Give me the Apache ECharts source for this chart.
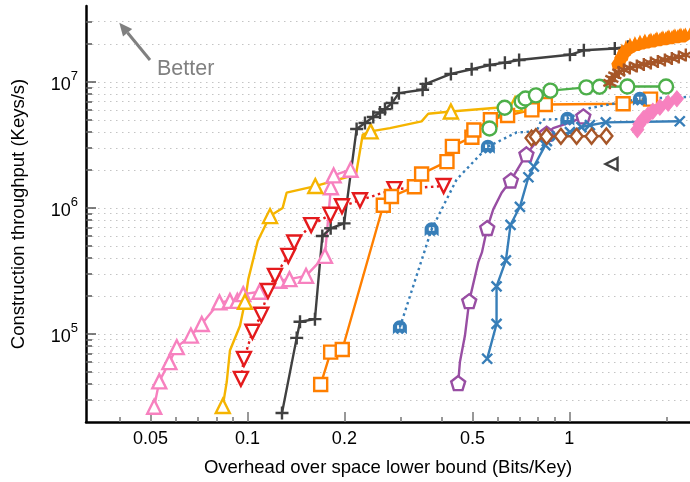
<!DOCTYPE html>
<html>
<head>
<meta charset="utf-8">
<title>Construction throughput</title>
<script src="https://cdn.jsdelivr.net/npm/echarts@6/dist/echarts.min.js"></script>
<style>
  html, body { margin: 0; padding: 0; background: #fff; }
  #main { width: 690px; height: 482px; }
</style>
</head>
<body>
<div id="main"></div>
<script>
// axis ranges / ticks
const xMin = 0.0315, xMax = 2.37;
const yMin = 2e4, yMax = 4e7;
const xMajor = [0.05, 0.1, 0.2, 0.5, 1];
const xMinor = [0.04, 0.06, 0.07, 0.08, 0.09, 0.3, 0.4, 0.6, 0.7, 0.8, 0.9, 2];
const yMajor = [1e5, 1e6, 1e7];
const yMinor = [3e4, 4e4, 5e4, 6e4, 7e4, 8e4, 9e4,
  2e5, 3e5, 4e5, 5e5, 6e5, 7e5, 8e5, 9e5,
  2e6, 3e6, 4e6, 5e6, 6e6, 7e6, 8e6, 9e6,
  2e7, 3e7];

// [overhead, throughput, 0 = vertex without marker]
const pinkTri = [[0.0513,2.64e4],[0.0532,4.2e4],[0.0572,5.97e4],[0.0603,7.85e4],[0.0667,9.7e4],[0.0721,1.2e5],[0.0818,1.78e5],[0.0882,1.83e5],[0.093,1.83e5],[0.097,2.07e5],[0.109,2.16e5],[0.1256,2.64e5],[0.135,2.72e5],[0.152,2.89e5],[0.174,4.16e5],[0.1816,1.46e6],[0.1852,1.81e6],[0.209,2.01e6]];
const goldTri = [[0.0838,2.68e4],[0.0862,4.15e4,0],[0.0882,7.38e4,0],[0.0948,1.16e5,0],[0.0982,1.8e5],[0.1006,2.72e5,0],[0.1076,5.47e5,0],[0.1175,8.61e5],[0.1286,1.0e6,0],[0.1323,1.32e6,0],[0.1624,1.49e6],[0.2173,1.84e6,0],[0.228,3.81e6,0],[0.2413,4.05e6],[0.277,4.3e6,0],[0.3475,4.86e6,0],[0.3643,5.58e6,0],[0.4285,5.82e6],[0.608,6.26e6,0],[0.678,6.66e6]];
const grayPlus = [[0.128,2.36e4],[0.1422,9.3e4],[0.1456,1.25e5],[0.162,1.31e5],[0.1708,5.98e5],[0.1813,6.89e5],[0.1996,7.54e5],[0.2183,4.23e6],[0.2317,4.72e6],[0.2459,5.26e6],[0.258,5.71e6],[0.2673,6.08e6],[0.2811,6.79e6],[0.2954,8.14e6],[0.35,8.65e6],[0.3584,9.64e6],[0.4285,1.157e7],[0.4971,1.26e7],[0.5663,1.36e7],[0.6305,1.42e7],[0.698,1.49e7],[1.004,1.64e7],[1.109,1.78e7],[1.384,1.84e7],[1.52,1.9e7]];
const redTri = [[0.0954,4.4e4],[0.0975,6.34e4],[0.1036,1.04e5],[0.1104,1.42e5],[0.1158,2.19e5],[0.1217,2.89e5],[0.1339,4.16e5],[0.1397,5.31e5],[0.1577,7.3e5],[0.1811,8.83e5],[0.1966,1.03e6],[0.2236,1.15e6],[0.2861,1.41e6],[0.4067,1.49e6]];
const orangeSq = [[0.1688,3.97e4],[0.1813,7.17e4],[0.197,7.52e4],[0.2642,1.05e6],[0.2801,1.23e6],[0.3301,1.47e6],[0.3475,1.86e6],[0.4166,2.33e6],[0.4331,3.08e6],[0.4979,3.64e6],[0.505,4.15e6],[0.5684,5.01e6],[0.6428,5.41e6],[0.7645,6.0e6],[0.842,6.62e6],[1.469,6.71e6],[1.787,7.3e6]];
const blueGhost = [[0.2975,1.13e5],[0.3733,6.76e5],[0.4463,1.68e6,0],[0.5582,3.06e6],[0.6855,3.97e6,0],[0.7907,4.05e6,0],[0.8199,5.01e6,0],[0.9858,5.1e6],[1.158,6.2e6,0],[1.656,7.34e6],[2.37,7.6e6,0]];
const purplePent = [[0.4514,4.07e4],[0.457,5.98e4,0],[0.4738,9.7e4,0],[0.4885,1.82e5],[0.521,3.69e5,0],[0.535,4.43e5,0],[0.5555,6.92e5],[0.5801,9.73e5,0],[0.6159,1.32e6,0],[0.658,1.65e6],[0.7355,2.66e6],[0.791,3.37e6,0],[0.8498,3.88e6],[0.8908,4.3e6,0],[1.028,4.86e6,0],[1.105,5.32e6]];
const blueX = [[0.5555,6.35e4],[0.594,1.2e5],[0.594,2.38e5],[0.635,3.83e5],[0.6565,7.34e5],[0.702,1.02e6],[0.746,1.75e6],[0.7759,2.13e6],[0.842,3.15e6],[0.8511,3.39e6],[0.9146,3.71e6],[1.004,3.99e6],[1.09,4.37e6],[1.158,4.53e6],[1.298,4.77e6],[2.203,4.87e6]];
const greenCirc = [[0.5646,4.27e6],[0.6294,6.23e6],[0.7111,6.99e6],[0.7306,7.37e6],[0.7871,7.82e6],[0.873,8.52e6],[1.129,9.05e6],[1.241,9.15e6],[1.514,9.18e6],[1.997,9.18e6]];
const brownDia = [[0.7629,3.58e6],[0.787,3.67e6],[0.8498,3.69e6],[0.9411,3.7e6],[1.053,3.7e6],[1.172,3.7e6],[1.303,3.72e6]];
const grayLeft = [[1.352,2.23e6]];
const pinkDia = [[1.626,4.18e6],[1.65,4.61e6],[1.698,5.1e6],[1.753,5.44e6],[1.816,5.85e6],[1.91,6.29e6],[2.027,6.76e6],[2.158,7.34e6]];
const orangeBlob = [[1.4245,1.439e7],[1.455,1.605e7],[1.487,1.758e7],[1.53,1.874e7],[1.575,1.96e7],[1.632,2.015e7],[1.692,2.07e7],[1.753,2.11e7],[1.83,2.15e7],[1.91,2.195e7],[1.994,2.236e7],[2.081,2.277e7],[2.173,2.318e7],[2.268,2.352e7]];
const brownStar = [[1.336,9.82e6],[1.355,1.056e7],[1.384,1.126e7],[1.424,1.189e7],[1.477,1.244e7],[1.541,1.29e7],[1.62,1.338e7],[1.703,1.375e7],[1.791,1.413e7],[1.883,1.452e7],[1.98,1.493e7],[2.081,1.534e7],[2.188,1.576e7],[2.3,1.635e7]];

const SYM = {
  plus: 'path://M5,0L5,10M0,5L10,5',
  cross: 'path://M0,0L10,10M0,10L10,0',
  star: 'path://M5,0L5,10M0.67,2.5L9.33,7.5M0.67,7.5L9.33,2.5',
  pentagon: 'path://M5,0L9.76,3.45L7.94,9.05L2.06,9.05L0.24,3.45Z',
  ghost: 'path://M0,10L0,5A5,5 0 0 1 10,5L10,10L8.33,8.6L6.67,10L5,8.6L3.33,10L1.67,8.6Z M3,3.5L3,6L4.5,6L4.5,3.5Z M5.5,3.5L5.5,6L7,6L7,3.5Z',
  blob: 'path://M1,10L0,6L2,3L3,0L4.5,3L6,0L7.5,3L9,0L10,4L9,8L6,10Z'
};

function pts(arr) {
  return arr.map(p => p[2] === 0 ? { value: [p[0], p[1]], symbol: 'none' } : [p[0], p[1]]);
}

function mk(name, arr, color, symbol, size, o) {
  o = o || {};
  return {
    name: name,
    type: 'line',
    data: pts(arr),
    symbol: symbol,
    symbolSize: size,
    symbolRotate: o.rotate || 0,
    showAllSymbol: true,
    lineStyle: { color: color, width: o.lineWidth == null ? 2.4 : o.lineWidth, type: o.dotted ? [2.5, 3.5] : 'solid' },
    itemStyle: { color: o.fill || '#fff', borderColor: color, borderWidth: o.border == null ? 2.4 : o.border },
    emphasis: { disabled: true },
    animation: false
  };
}

const axisFont = 'Liberation Sans';

const chart = echarts.init(document.getElementById('main'));
chart.setOption({
  backgroundColor: '#fff',
  animation: false,
  textStyle: { fontFamily: axisFont },
  grid: { left: 86, right: 0, top: 6, bottom: 59 },
  xAxis: [{
    type: 'log', min: xMin, max: xMax, position: 'bottom',
    name: 'Overhead over space lower bound (Bits/Key)',
    nameLocation: 'middle', nameGap: 36,
    nameTextStyle: { fontSize: 18.5, color: '#000', fontFamily: axisFont },
    axisLine: { lineStyle: { color: '#000', width: 2.5 } },
    axisTick: { inside: true, length: 10, customValues: xMajor, lineStyle: { color: '#777', width: 1.5 } },
    axisLabel: { customValues: xMajor, fontSize: 18, color: '#000', margin: 8,
      formatter: v => String(+(+v).toPrecision(3)) },
    splitLine: { show: false }
  }, {
    type: 'log', min: xMin, max: xMax, position: 'bottom',
    axisLine: { show: false },
    axisTick: { inside: true, length: 5, customValues: xMinor, lineStyle: { color: '#777', width: 1.5 } },
    axisLabel: { show: false },
    splitLine: { show: false }
  }],
  yAxis: [{
    type: 'log', min: yMin, max: yMax, position: 'left',
    name: 'Construction throughput (Keys/s)',
    nameLocation: 'middle', nameGap: 58,
    nameTextStyle: { fontSize: 18.5, color: '#000', fontFamily: axisFont },
    axisLine: { lineStyle: { color: '#000', width: 2.5 } },
    axisTick: { inside: true, length: 10, customValues: yMajor, lineStyle: { color: '#555', width: 1.5 } },
    axisLabel: { customValues: yMajor, margin: 8,
      formatter: v => '{b|10}{s|' + Math.round(Math.log10(v)) + '}',
      rich: {
        b: { fontSize: 18, color: '#000', fontFamily: axisFont, lineHeight: 24, verticalAlign: 'bottom' },
        s: { fontSize: 13, color: '#000', fontFamily: axisFont, lineHeight: 14, verticalAlign: 'top' }
      } },
    splitLine: { show: true, lineStyle: { color: '#c4c4c4', width: 1, type: [1.5, 4.5] } }
  }, {
    type: 'log', min: yMin, max: yMax, position: 'left',
    axisLine: { show: false },
    axisTick: { inside: true, length: 6, customValues: yMinor, lineStyle: { color: '#555', width: 1.5 } },
    axisLabel: { show: false },
    splitLine: { show: true, lineStyle: { color: '#c4c4c4', width: 1, type: [1.5, 4.5] } }
  }],
  graphic: [
    { type: 'line', shape: { x1: 150, y1: 60, x2: 127.6, y2: 32.7 }, style: { stroke: '#808080', lineWidth: 3 } },
    { type: 'polygon', shape: { points: [[119.3, 22.7], [132.2, 28.9], [123, 36.5]] }, style: { fill: '#808080' } },
    { type: 'text', left: 157, top: 58, style: { text: 'Better', fontSize: 21.5, fill: '#808080', fontFamily: axisFont } }
  ],
  series: [
    mk('pinkTri', pinkTri, '#f781bf', 'triangle', 14),
    mk('goldTri', goldTri, '#f5b400', 'triangle', 14),
    mk('grayPlus', grayPlus, '#404040', SYM.plus, 13),
    mk('redTri', redTri, '#e41a1c', 'triangle', 14, { rotate: 180, dotted: true }),
    mk('orangeSq', orangeSq, '#ff7f00', 'rect', 13),
    mk('blueGhost', blueGhost, '#377eb8', SYM.ghost, 14, { dotted: true, fill: '#377eb8', border: 0 }),
    mk('purplePent', purplePent, '#984ea3', SYM.pentagon, 14),
    mk('blueX', blueX, '#377eb8', SYM.cross, 10),
    mk('greenCirc', greenCirc, '#4daf4a', 'circle', 14),
    mk('brownDia', brownDia, '#a65628', 'diamond', [12, 15]),
    mk('grayLeft', grayLeft, '#404040', 'triangle', 12, { rotate: 90 }),
    mk('pinkDia', pinkDia, '#f781bf', 'diamond', [13, 16], { fill: '#f781bf', border: 1 }),
    mk('orangeBlob', orangeBlob, '#ff7f00', SYM.blob, 15, { fill: '#ff7f00', border: 0 }),
    mk('brownStar', brownStar, '#a65628', SYM.star, 13)
  ]
});
</script>
</body>
</html>
